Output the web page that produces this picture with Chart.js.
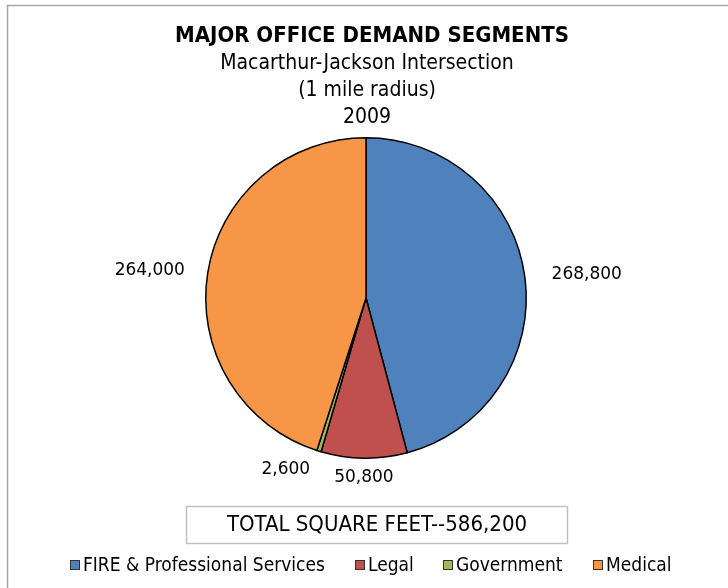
<!DOCTYPE html>
<html>
<head>
<meta charset="utf-8">
<script src="https://cdn.jsdelivr.net/npm/chart.js@4.4.1/dist/chart.umd.min.js"></script>
<style>
  html, body { margin: 0; padding: 0; background: #fff; }
  #wrap { position: relative; width: 728px; height: 588px; }
</style>
</head>
<body>
<div id="wrap"><canvas id="c" width="728" height="588"></canvas></div>
<script>
const categories = ["FIRE & Professional Services", "Legal", "Government", "Medical"];
const values = [268800, 50800, 2600, 264000];
const valueLabels = ["268,800", "50,800", "2,600", "264,000"];
const colors = ["#4F81BD", "#C0504D", "#9BBB59", "#F79646"];
const titleText = "MAJOR OFFICE DEMAND SEGMENTS";
const subtitleLines = ["Macarthur-Jackson Intersection", "(1 mile radius)", "2009"];
const totalText = "TOTAL SQUARE FEET--586,200";

// label layout: radial distance factor and angle nudge (radians)
const labelDist = [1.385, 1.12, 1.18, 1.36];
const labelNudge = [0.025, 0, 0.14, -0.03];

const SANS = "'Liberation Sans Narrow', 'DejaVu Sans Condensed', 'Liberation Sans', sans-serif";
const WIDE = "'DejaVu Sans', sans-serif";

const decor = {
  id: 'decor',
  beforeDraw(chart) {
    const ctx = chart.ctx;
    ctx.save();
    ctx.fillStyle = '#fff';
    ctx.fillRect(0, 0, chart.width, chart.height);
    ctx.strokeStyle = '#A6A6A6';
    ctx.lineWidth = 1.5;
    ctx.beginPath();
    ctx.moveTo(7.5, 588);
    ctx.lineTo(7.5, 5.5);
    ctx.lineTo(728, 5.5);
    ctx.stroke();
    ctx.restore();
  },
  afterDraw(chart) {
    const ctx = chart.ctx;
    ctx.save();
    ctx.fillStyle = '#000';
    ctx.textAlign = 'center';
    ctx.textBaseline = 'middle';
    ctx.font = "bold 22px " + SANS;
    ctx.fillText(titleText, 372, 36);
    ctx.font = "21px " + SANS;
    const ys = [64, 91, 118];
    subtitleLines.forEach((t, i) => ctx.fillText(t, 367, ys[i]));

    const meta = chart.getDatasetMeta(0);
    ctx.font = "17px " + WIDE;
    meta.data.forEach((arc, i) => {
      const p = arc.getProps(['x', 'y', 'startAngle', 'endAngle', 'outerRadius'], true);
      const mid = (p.startAngle + p.endAngle) / 2 + labelNudge[i];
      const r = p.outerRadius * labelDist[i];
      ctx.fillText(valueLabels[i], p.x + Math.cos(mid) * r, p.y + Math.sin(mid) * r);
    });

    ctx.strokeStyle = '#BFBFBF';
    ctx.lineWidth = 1.5;
    ctx.strokeRect(186.5, 506.5, 381, 37);
    ctx.font = "22px " + SANS;
    ctx.fillText(totalText, 377, 525);

    const lx = [70, 355, 443, 593];
    ctx.font = "19px " + SANS;
    ctx.textAlign = 'left';
    categories.forEach((c, i) => {
      ctx.fillStyle = colors[i];
      ctx.fillRect(lx[i], 560, 10, 10);
      ctx.strokeStyle = '#333';
      ctx.lineWidth = 1;
      ctx.strokeRect(lx[i] + 0.5, 560.5, 9, 9);
      ctx.fillStyle = '#000';
      ctx.fillText(c, lx[i] + 13, 566);
    });
    ctx.restore();
  }
};

new Chart(document.getElementById('c'), {
  type: 'pie',
  data: {
    labels: categories,
    datasets: [{
      data: values,
      backgroundColor: colors,
      borderColor: '#000',
      borderWidth: 1.5
    }]
  },
  options: {
    responsive: false,
    animation: false,
    layout: { padding: { top: 137, bottom: 129, left: 4, right: 0 } },
    plugins: {
      legend: { display: false },
      title: { display: false },
      tooltip: { enabled: false }
    }
  },
  plugins: [decor]
});
</script>
</body>
</html>
